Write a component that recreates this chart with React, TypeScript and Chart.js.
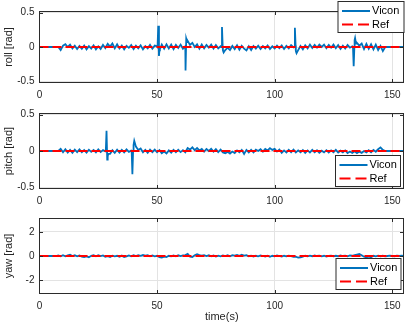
import React, { useEffect, useRef } from "react";
import { Chart, registerables } from "chart.js";

Chart.register(...registerables);

// ---------- data ----------
const X_MAX = 155;
const xTicks = [0, 50, 100, 150];
const rollTicks = [-0.5, 0, 0.5];
const pitchTicks = [-0.5, 0, 0.5];
const yawTicks = [-2, 0, 2];
const ANGLE_LIMIT = 0.5236; // ylim of roll / pitch
const YAW_LIMIT = 3.1416;
const seriesNames = ["Vicon", "Ref"];

// Vicon samples at t = 0,1,2,...,155 s
const rollVicon = [
  0, 0, 0, 0, 0, 0, 0, 0, 0,
  -0.045, 0.02, 0.04, 0.0, 0.035, -0.02, 0.02, -0.03, 0.015, -0.025,
  0.02, -0.035, 0.012, -0.022, 0.025, -0.035, 0.01, -0.028, 0.03, -0.015,
  0.045, 0.005, 0.05, -0.02, 0.04, -0.022, 0.02, -0.035, 0.018, -0.012,
  0.028, -0.03, 0.02, -0.018, 0.025, -0.035, 0.012, -0.02, 0.03, -0.025,
  0.02, 0.01, -0.05, 0.035, -0.025, 0.04, -0.02, 0.035, -0.03, 0.03,
  -0.015, 0.035, -0.025, 0.01, 0.09, 0.03, 0.06, 0.0, 0.04, -0.025,
  0.035, -0.02, 0.03, -0.01, 0.035, -0.022, 0.028, -0.02, 0.01, -0.05,
  -0.045, -0.01, -0.045, 0.015, -0.03, 0.025, -0.04, 0.018, -0.025, -0.05,
  0.01, -0.045, 0.015, -0.022, 0.02, -0.028, 0.012, -0.02, 0.022, -0.028,
  0.01, -0.022, 0.02, -0.016, 0.022, -0.028, 0.015, -0.02, 0.028, -0.005,
  -0.06, -0.045, 0.015, -0.035, 0.025, -0.02, 0.035, -0.015, 0.03, -0.01,
  0.035, 0.0, 0.035, -0.018, 0.03, -0.01, 0.035, -0.018, 0.028, -0.028,
  0.02, -0.022, 0.028, -0.01, 0.01, 0.1, 0.06, 0.02, 0.05, -0.03,
  0.045, -0.025, 0.04, -0.035, 0.035, -0.045, 0.015, -0.06, 0,
  0, 0, 0, 0, 0, 0, 0, 0,
];
const rollSpikeTime = [50.2, 50.5, 50.8, 51.2, 61.8, 62.1, 62.4, 62.8, 77.3, 77.6, 77.9, 78.3, 108.3, 108.6, 108.9, 109.3, 133.3, 133.6, 133.9, 134.2, 134.6];
const rollSpikeValue = [0, 0.31, -0.13, -0.03, 0, -0.34, 0.12, 0.07, 0, 0.29, 0, -0.08, 0, 0.28, 0.02, -0.09, 0, -0.28, 0, 0.13, 0.05];

const pitchVicon = [
  0, 0, 0, 0, 0, 0, 0, 0, 0,
  0.03, -0.018, 0.025, -0.022, 0.015, -0.025, 0.018, -0.015, 0.022, -0.018,
  0.012, -0.022, 0.018, -0.012, 0.015, -0.018, 0.022, -0.015, 0.012, -0.005,
  -0.08, -0.04, 0.01, -0.025, 0.018, -0.022, 0.015, -0.018, 0.022, -0.012,
  0.005, 0.08, 0.06, 0.015, 0.035, -0.018, 0.015, -0.025, 0.018, -0.015,
  0.02, -0.018, 0.012, -0.03, -0.008, -0.035, 0.008, -0.022, 0.015, -0.018,
  0.018, -0.015, 0.012, -0.018, 0.04, 0.02, 0.05, 0.012, 0.04, 0.008,
  0.03, -0.008, 0.028, 0.0, 0.03, -0.008, 0.025, -0.015, 0.018, -0.02,
  -0.03, -0.012, -0.035, -0.008, -0.028, 0.008, -0.018, 0.015, -0.04, 0.015,
  -0.02, 0.015, -0.018, 0.02, 0.0, 0.025, -0.008, 0.03, 0.008, 0.04,
  0.015, 0.03, -0.008, 0.02, -0.025, 0.008, -0.02, 0.015, -0.018, 0.018,
  -0.02, 0.008, -0.018, 0.012, -0.025, 0.008, -0.02, 0.015, -0.018, 0.01,
  -0.025, 0.004, -0.018, 0.012, -0.02, 0.008, -0.018, 0.015, -0.02, 0.004,
  -0.018, 0.008, -0.03, -0.008, -0.028, -0.004, -0.03, -0.008, -0.025, 0.0,
  -0.02, 0.01, -0.018, 0.015, -0.01, 0.025, 0.05, 0.015, 0,
  0, 0, 0, 0, 0, 0, 0, 0,
];
const pitchSpikeTime = [28.2, 28.5, 28.8, 29.2, 39.2, 39.5, 39.8, 40.3];
const pitchSpikeValue = [0, 0.28, -0.12, -0.04, 0, -0.32, 0, 0.14];

const yawVicon = [
  0, 0, 0, 0, 0, 0, 0, 0,
  0.05, -0.03, 0.06, -0.02, 0.05, 0.1, 0.0, 0.06, -0.03, 0.05,
  -0.05, -0.09, -0.03, -0.1, 0.02, 0.06, -0.02, 0.07, 0.0, 0.05,
  -0.06, -0.02, -0.08, 0.03, -0.03, 0.02, -0.06, 0.03, -0.09, -0.03,
  0.05, -0.02, 0.06, 0.0, 0.07, 0.02, 0.08, 0.03, 0.06, -0.02,
  0.05, -0.03, 0.02, -0.1, -0.13, -0.05, -0.08, 0.02, -0.03, 0.05,
  -0.02, 0.06, 0.0, 0.05, 0.08, 0.17, -0.05, -0.08, 0.06, 0.15,
  0.08, 0.03, 0.07, 0.0, 0.06, -0.03, 0.05, -0.05, 0.03, -0.03,
  0.05, 0.0, 0.06, -0.02, 0.07, 0.03, 0.08, 0.02, 0.1, 0.04,
  0.07, -0.02, 0.03, -0.05, 0.02, -0.03, 0.05, 0.0, -0.05, 0.03,
  -0.06, 0.02, -0.03, 0.05, 0.0, -0.05, 0.02, -0.03, 0.03, -0.02,
  -0.06, -0.05, -0.14, -0.11, -0.05, 0.02, -0.03, 0.03, -0.02, 0.05,
  0.0, 0.03, -0.03, 0.02, -0.05, 0.0, 0.03, -0.03, 0.02, -0.02,
  0.05, 0.0, 0.03, -0.03, 0.05, 0.02, 0.07, 0.12, 0.17, 0.06,
  -0.06, -0.11, -0.05, -0.1, 0.02, -0.03, 0.03, -0.02, 0.02, -0.03,
  0.0, 0.03, 0.0, -0.02, 0.02, 0.0, 0.02, 0.0,
];
const yawSpikeTime: number[] = [];
const yawSpikeValue: number[] = [];

const refTime = [0, 155];
const refValue = [0, 0];

// ---------- styling ----------
const W = 407;
const H = 328;
const FONT = "'Liberation Sans', Arial, Helvetica, sans-serif";
const TEXT = "#262626";
const AXIS = "#2b2b2b";
const GRID = "#e3e3e3";
const BLUE = "#0072BD";
const RED = "#FF0000";
const DASH = [9, 4];

type Panel = {
  label: string;
  base: number[];
  spikeT: number[];
  spikeV: number[];
  ticks: number[];
  lim: number;
  top: number;
  bottom: number;
  xTitle: boolean;
  legend: { x: number; y: number; w: number; h: number };
};

const panels: Panel[] = [
  { label: "roll [rad]", base: rollVicon, spikeT: rollSpikeTime, spikeV: rollSpikeValue, ticks: rollTicks, lim: ANGLE_LIMIT, top: 7, bottom: 83, xTitle: false, legend: { x: 338, y: 1.5, w: 66, h: 31 } },
  { label: "pitch [rad]", base: pitchVicon, spikeT: pitchSpikeTime, spikeV: pitchSpikeValue, ticks: pitchTicks, lim: ANGLE_LIMIT, top: 113, bottom: 189, xTitle: false, legend: { x: 335.5, y: 155.5, w: 65, h: 31 } },
  { label: "yaw [rad]", base: yawVicon, spikeT: yawSpikeTime, spikeV: yawSpikeValue, ticks: yawTicks, lim: YAW_LIMIT, top: 218, bottom: 294, xTitle: true, legend: { x: 336, y: 258.5, w: 65, h: 31 } },
];

function buildPoints(base: number[], st: number[], sv: number[]) {
  const pts = base.map((v, i) => ({ x: i, y: v }));
  st.forEach((t, i) => pts.push({ x: t, y: sv[i] }));
  pts.sort((a, b) => a.x - b.x);
  return pts;
}

const boxPlugin = {
  id: "matlabBox",
  afterDatasetsDraw(chart: any) {
    const { ctx, chartArea, scales } = chart;
    const l = Math.floor(chartArea.left) + 0.5;
    const r = Math.floor(chartArea.right) - 0.5;
    const t = Math.floor(chartArea.top) + 0.5;
    const b = Math.floor(chartArea.bottom) - 0.5;
    ctx.save();
    ctx.strokeStyle = AXIS;
    ctx.lineWidth = 1;
    ctx.beginPath();
    const TL = 3.5;
    scales.x.ticks.forEach((tk: any) => {
      const px = Math.round(scales.x.getPixelForValue(tk.value)) + 0.5;
      if (px <= l + 1 || px >= r - 1) return;
      ctx.moveTo(px, b);
      ctx.lineTo(px, b - TL);
      ctx.moveTo(px, t);
      ctx.lineTo(px, t + TL);
    });
    scales.y.ticks.forEach((tk: any) => {
      const py = Math.round(scales.y.getPixelForValue(tk.value)) + 0.5;
      if (py <= t + 1 || py >= b - 1) return;
      ctx.moveTo(l, py);
      ctx.lineTo(l + TL, py);
      ctx.moveTo(r, py);
      ctx.lineTo(r - TL, py);
    });
    ctx.stroke();
    ctx.strokeRect(l, t, r - l, b - t);
    ctx.restore();
  },
};

function legendPlugin(box: { x: number; y: number; w: number; h: number }) {
  return {
    id: "insideLegend",
    afterDraw(chart: any) {
      const { ctx } = chart;
      ctx.save();
      ctx.fillStyle = "#ffffff";
      ctx.fillRect(box.x, box.y, box.w, box.h);
      ctx.strokeStyle = AXIS;
      ctx.lineWidth = 1;
      ctx.strokeRect(box.x, box.y, box.w, box.h);
      const rows = [box.y + 9.5, box.y + 23];
      const styles = [
        { color: BLUE, dash: [] as number[], width: 2 },
        { color: RED, dash: [11, 5], width: 2 },
      ];
      rows.forEach((ry, i) => {
        ctx.beginPath();
        ctx.setLineDash(styles[i].dash);
        ctx.strokeStyle = styles[i].color;
        ctx.lineWidth = styles[i].width;
        ctx.moveTo(box.x + 4, ry);
        ctx.lineTo(box.x + 32, ry);
        ctx.stroke();
        ctx.setLineDash([]);
        ctx.fillStyle = "#000000";
        ctx.font = `11px ${FONT}`;
        ctx.textBaseline = "middle";
        ctx.textAlign = "left";
        ctx.fillText(seriesNames[i], box.x + 34, ry);
      });
      ctx.restore();
    },
  };
}

function makeConfig(p: Panel): any {
  const xH = p.xTitle ? 30 : 20;
  const padBottom = H - p.bottom - xH;
  return {
    type: "line",
    data: {
      datasets: [
        {
          label: seriesNames[0],
          data: buildPoints(p.base, p.spikeT, p.spikeV),
          borderColor: BLUE,
          borderWidth: 1.8,
          pointRadius: 0,
          tension: 0,
          order: 1,
        },
        {
          label: seriesNames[1],
          data: refTime.map((t, i) => ({ x: t, y: refValue[i] })),
          borderColor: RED,
          borderWidth: 2,
          borderDash: DASH,
          pointRadius: 0,
          order: 0,
        },
      ],
    },
    options: {
      animation: false,
      responsive: false,
      maintainAspectRatio: false,
      events: [],
      layout: { padding: { top: p.top, bottom: padBottom, left: 0, right: W - 404 } },
      plugins: { legend: { display: false }, tooltip: { enabled: false } },
      scales: {
        x: {
          type: "linear",
          min: 0,
          max: X_MAX,
          afterBuildTicks: (s: any) => {
            s.ticks = xTicks.map((v) => ({ value: v }));
          },
          afterFit: (s: any) => {
            s.height = xH;
          },
          grid: { color: GRID, drawTicks: false, lineWidth: 1 },
          border: { display: false },
          ticks: {
            padding: 6,
            maxRotation: 0,
            autoSkip: false,
            color: TEXT,
            font: { family: FONT, size: 10 },
            callback: (v: any) => String(v),
          },
          title: {
            display: p.xTitle,
            text: "time(s)",
            color: TEXT,
            font: { family: FONT, size: 11 },
            padding: { top: 0, bottom: 0 },
          },
        },
        y: {
          type: "linear",
          min: -p.lim,
          max: p.lim,
          afterBuildTicks: (s: any) => {
            s.ticks = p.ticks.map((v) => ({ value: v }));
          },
          afterFit: (s: any) => {
            s.width = 39.5;
          },
          grid: { color: GRID, drawTicks: false, lineWidth: 1 },
          border: { display: false },
          ticks: {
            padding: 5,
            color: TEXT,
            font: { family: FONT, size: 10 },
            callback: (v: any) => String(v),
          },
          title: {
            display: true,
            text: p.label,
            color: TEXT,
            font: { family: FONT, size: 11 },
            padding: { top: 2, bottom: 0 },
          },
        },
      },
    },
    plugins: [boxPlugin, legendPlugin(p.legend)],
  };
}

export default function App() {
  const c0 = useRef<HTMLCanvasElement>(null);
  const c1 = useRef<HTMLCanvasElement>(null);
  const c2 = useRef<HTMLCanvasElement>(null);

  useEffect(() => {
    const refs = [c0, c1, c2];
    const charts = panels.map((p, i) => new Chart(refs[i].current as HTMLCanvasElement, makeConfig(p)));
    return () => charts.forEach((c) => c.destroy());
  }, []);

  const cs: React.CSSProperties = { position: "absolute", left: 0, top: 0, width: W, height: H };
  return (
    <div style={{ position: "absolute", left: 0, top: 0, width: W, height: H, background: "#ffffff" }}>
      <canvas ref={c0} width={W} height={H} style={cs} />
      <canvas ref={c1} width={W} height={H} style={cs} />
      <canvas ref={c2} width={W} height={H} style={cs} />
    </div>
  );
}
